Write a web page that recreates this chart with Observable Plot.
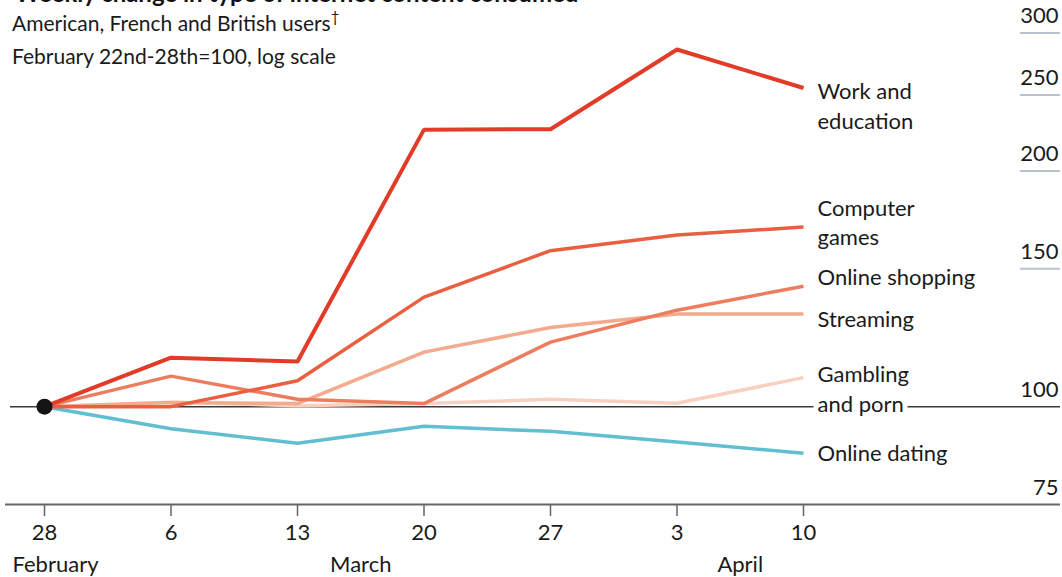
<!DOCTYPE html>
<html><head><meta charset="utf-8">
<script src="https://cdn.jsdelivr.net/npm/d3@7"></script>
<script src="https://cdn.jsdelivr.net/npm/@observablehq/plot@0.6"></script>
<style>
body{margin:0;background:#fff;font-family:Lato,sans-serif;}
#wrap{position:relative;width:1062px;height:577px;overflow:hidden;}
.title{position:absolute;left:15px;top:-19px;font:bold 24px/24px Lato,sans-serif;color:#111;white-space:nowrap;}
.sub{position:absolute;left:12px;top:6px;font:21px/33px Lato,sans-serif;color:#1a1a1a;white-space:nowrap;}
.sub sup{font-size:15px;line-height:0;vertical-align:9px;}
</style></head><body>
<div id="wrap"><div id="chart"></div>
<div class="title">Weekly change in type of internet content consumed</div>
<div class="sub">American, French and British users<sup>†</sup><br>February 22nd-28th=100, log scale</div>
</div>
<script>
// Week ending dates
const weeks = ["2020-02-28","2020-03-06","2020-03-13","2020-03-20","2020-03-27","2020-04-03","2020-04-10"];
// Series values (index, Feb 22nd-28th = 100)
const workEducation  = [100, 115.5, 114.2, 225.8, 226.1, 285.8, 255.2];
const computerGames  = [100, 100.0, 107.9, 138.0, 158.2, 165.6, 169.6];
const onlineShopping = [100, 109.4, 102.2, 100.9, 120.9, 132.8, 142.5];
const streaming      = [100, 101.2, 100.9, 117.4, 126.2, 131.3, 131.3];
const gamblingPorn   = [100, 101.3, 100.3, 100.9, 102.2, 101.0, 108.9];
const onlineDating   = [100,  93.7,  89.8,  94.4,  93.0,  90.1,  87.2];
const seriesNames = ["Work and education","Computer games","Online shopping","Streaming","Gambling and porn","Online dating"];
const seriesLabels = ["Work and\neducation","Computer\ngames","Online shopping","Streaming","Gambling\nand porn","Online dating"];
const yTicks = [75, 100, 150, 200, 250, 300];
const monthLabels = ["February","March","April"];

const seriesValues = [workEducation, computerGames, onlineShopping, streaming, gamblingPorn, onlineDating];
const colors = ["#e23b27","#e8603f","#ec7d5e","#f4aa8d","#f8d0bf","#62bed1"];
const labelDy = [41, 18.5, -1.5, 13, 34.5, 8];

const dates = weeks.map(d => new Date(d + "T00:00:00Z"));
const rows = seriesNames.flatMap((name, i) => seriesValues[i].map((v, j) => ({series: name, date: dates[j], value: v})));
const drawOrder = [5,4,3,2,1,0];

const lineMarks = drawOrder.map(i => Plot.line(rows.filter(r => r.series === seriesNames[i]), {
  x: "date", y: "value", stroke: colors[i], strokeWidth: i === 0 ? 4 : 3.5, strokeLinejoin: "miter", strokeLinecap: "butt"
}));
const labelMarks = seriesNames.map((name, i) => Plot.text([{date: dates[dates.length-1], value: seriesValues[i][seriesValues[i].length-1], label: seriesLabels[i]}], {
  x: "date", y: "value", text: "label", textAnchor: "start", lineAnchor: "bottom", lineHeight: 1.36,
  dx: 14, dy: labelDy[i], fill: "#1a1a1a", stroke: "white", strokeWidth: 10, fontSize: 22
}));

const monthPos = [
  {date: dates[0], label: monthLabels[0], anchor: "start", dx: -32},
  {date: new Date("2020-03-16T12:00:00Z"), label: monthLabels[1], anchor: "middle", dx: 0},
  {date: new Date("2020-04-06T12:00:00Z"), label: monthLabels[2], anchor: "middle", dx: 0}
];

const chart = Plot.plot({
  width: 1062, height: 577,
  marginTop: 32.5, marginBottom: 73, marginLeft: 0, marginRight: 0,
  style: {fontFamily: "Lato, sans-serif", fontSize: "22px", color: "#1a1a1a", background: "white", overflow: "visible"},
  x: {type: "utc", domain: [dates[0], dates[dates.length-1]], range: [44, 803], axis: null},
  y: {type: "log", domain: [75, 300], axis: null},
  marks: [
    Plot.ruleY([150, 200, 250, 300], {stroke: "#b7c2cc", strokeWidth: 2, insetLeft: 1020, insetRight: 2}),
    Plot.ruleY([100], {stroke: "#3a3a3a", strokeWidth: 1.5, insetLeft: 10, insetRight: 2}),
    Plot.ruleY([75], {stroke: "#666", strokeWidth: 2, insetLeft: 5, insetRight: 2}),
    Plot.text(yTicks, {y: d => d, text: d => String(d), frameAnchor: "right", textAnchor: "end", lineAnchor: "bottom", dx: -4, dy: -10, fill: "#1a1a1a", fontSize: 22}),
    Plot.axisX({ticks: dates, tickFormat: d => String(d.getUTCDate()), tickSize: 12, tickPadding: 8, fontSize: 22, stroke: "#666", strokeWidth: 1.5, fill: "#1a1a1a", anchor: "bottom"}),
    ...monthPos.map(m => Plot.text([m], {x: "date", text: "label", frameAnchor: "bottom", textAnchor: m.anchor, lineAnchor: "bottom", dx: m.dx, dy: 67, fill: "#1a1a1a", fontSize: 22})),
    ...lineMarks,
    Plot.dot([rows[0]], {x: "date", y: "value", r: 8, fill: "#141414", stroke: "none"}),
    ...labelMarks
  ]
});
document.getElementById("chart").appendChild(chart);
</script>
</body></html>
